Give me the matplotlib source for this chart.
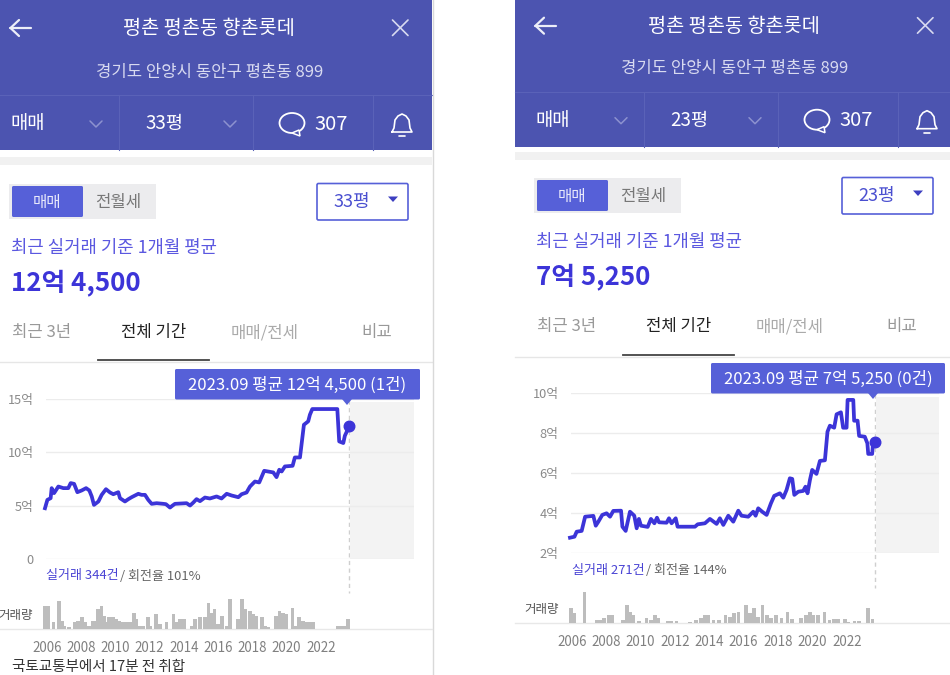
import matplotlib
matplotlib.use("Agg")
import matplotlib.pyplot as plt
from matplotlib.patches import Rectangle, FancyBboxPatch, Polygon, Ellipse

plt.rcParams['font.family'] = ['Noto Sans CJK KR', 'DejaVu Sans']

W, H = 950, 675

# ---- left chart (33평) ----
years_33 = [2005.9, 2006.04, 2006.23, 2006.29, 2006.43, 2006.68, 2006.97, 2007.26, 2007.40, 2007.6,
            2007.79, 2008.04, 2008.3, 2008.49, 2008.63, 2008.76, 2009.02, 2009.21, 2009.46, 2009.7,
            2009.89, 2010.18, 2010.28, 2010.57, 2010.77, 2010.96, 2011.35, 2011.54, 2011.74, 2011.93,
            2012.13, 2012.42, 2012.81, 2012.96, 2013.2, 2013.35, 2013.49, 2014.17, 2014.37, 2014.56,
            2014.75, 2014.95, 2015.24, 2015.53, 2015.92, 2016.21, 2016.51, 2016.8, 2017.19, 2017.38,
            2017.67, 2017.87, 2018.16, 2018.41, 2018.7, 2019.23, 2019.42, 2019.58, 2019.72, 2019.91,
            2020.36, 2020.49, 2020.79, 2021.02, 2021.27, 2021.37, 2021.51, 2022.97, 2023.08, 2023.32,
            2023.41, 2023.67]
price_33 = [4.78, 5.56, 5.72, 6.66, 6.19, 6.81, 6.66, 6.66, 7.13, 7.06,
            6.28, 6.44, 6.66, 6.44, 5.88, 5.09, 5.41, 6.03, 6.56, 6.25,
            6.09, 6.28, 5.72, 5.41, 5.63, 5.81, 6.13, 6.03, 6.03, 5.56,
            5.19, 5.25, 5.19, 5.16, 4.84, 5.03, 5.19, 5.25, 5.03, 5.31,
            5.63, 5.44, 5.78, 5.69, 5.88, 5.69, 6.13, 5.97, 5.81, 6.09,
            6.25, 6.81, 7.28, 7.19, 8.28, 8.13, 7.69, 8.38, 8.22, 8.69,
            8.75, 9.53, 9.53, 12.59, 12.91, 13.53, 14.06, 14.06, 11.03, 10.88,
            11.56, 12.45]
vol_years_33 = [2005.9, 2006.1, 2006.4, 2006.7, 2006.9, 2007.0, 2007.3, 2007.65, 2007.85, 2008.05,
                2008.25, 2008.45, 2008.7, 2008.9, 2009.0, 2009.2, 2009.35, 2009.5, 2009.65, 2009.85,
                2010.05, 2010.25, 2010.45, 2010.65, 2010.85, 2011.1, 2011.25, 2011.45, 2011.65, 2011.9,
                2012.05, 2012.4, 2012.6, 2013.0, 2013.4, 2013.6, 2013.8, 2014.0, 2014.45, 2014.65,
                2014.95, 2015.25, 2015.45, 2015.65, 2015.8, 2016.0, 2016.25, 2016.5, 2016.7, 2017.15,
                2017.4, 2017.6, 2017.85, 2018.05, 2018.25, 2018.55, 2018.75, 2018.95, 2019.4, 2019.6,
                2019.8, 2020.0, 2020.35, 2020.55, 2020.75, 2020.95, 2021.15, 2021.35, 2021.55, 2023.0,
                2023.2, 2023.4, 2023.6]
vol_33 = [70, 70, 20, 85, 25, 10, 5, 20, 25, 35,
          20, 10, 25, 25, 60, 70, 40, 20, 35, 35,
          30, 25, 20, 20, 20, 50, 30, 10, 10, 35,
          10, 45, 15, 20, 45, 20, 30, 30, 10, 30,
          35, 35, 80, 50, 60, 15, 40, 10, 90, 30,
          90, 60, 55, 45, 40, 35, 10, 5, 40, 55,
          50, 45, 65, 10, 35, 25, 20, 20, 20, 8,
          8, 8, 30]
yticks_33 = [0, 5, 10, 15]
ylabels_33 = ['0', '5억', '10억', '15억']

# ---- right chart (23평) ----
years_23 = [2005.9, 2006.16, 2006.29, 2006.58, 2006.78, 2007.26, 2007.4, 2007.55, 2007.78, 2008.03,
            2008.23, 2008.42, 2008.87, 2008.95, 2009.14, 2009.39, 2009.64, 2009.78, 2009.91, 2010.03,
            2010.42, 2010.61, 2010.81, 2010.96, 2011.08, 2011.52, 2011.66, 2011.81, 2012.05, 2012.16,
            2013.17, 2013.33, 2013.75, 2014.04, 2014.43, 2014.62, 2014.82, 2015.11, 2015.4, 2015.69,
            2015.88, 2016.27, 2016.56, 2016.7, 2016.85, 2017.08, 2017.34, 2017.59, 2017.78, 2018.11,
            2018.31, 2018.5, 2018.69, 2018.83, 2018.95, 2019.18, 2019.47, 2019.6, 2019.72, 2019.86,
            2019.99, 2020.24, 2020.44, 2020.73, 2020.88, 2021.02, 2021.27, 2021.41, 2021.66, 2021.79,
            2021.99, 2022.05, 2022.38, 2022.43, 2022.63, 2022.72, 2023.05, 2023.2, 2023.25, 2023.48,
            2023.54, 2023.67]
price_23 = [2.78, 2.83, 3.08, 3.12, 3.83, 3.87, 3.38, 3.58, 3.92, 4.0,
            3.83, 4.12, 4.13, 3.33, 3.12, 4.08, 3.88, 3.25, 3.72, 3.38,
            3.32, 3.72, 3.5, 3.78, 3.55, 3.53, 3.75, 3.5, 3.75, 3.33,
            3.33, 3.45, 3.5, 3.72, 3.47, 3.75, 3.42, 3.88, 3.58, 4.13,
            3.88, 3.83, 4.08, 3.88, 4.25, 4.08, 3.92, 4.5, 4.87, 5.0,
            4.78, 5.17, 5.75, 5.72, 4.92, 5.08, 5.12, 5.33, 5.0, 5.67,
            6.17, 5.97, 6.62, 6.65, 8.08, 8.38, 8.28, 8.95, 9.05, 8.28,
            8.28, 9.67, 9.67, 8.63, 8.63, 7.87, 7.83, 7.5, 6.97, 6.97,
            7.62, 7.55]
vol_years_23 = [2005.95, 2006.15, 2006.75, 2007.45, 2007.65, 2007.9, 2008.15, 2008.35, 2009.0, 2009.2,
                2009.4, 2009.6, 2009.9, 2010.35, 2010.6, 2010.85, 2011.05, 2011.6, 2011.8, 2012.1,
                2012.9, 2013.25, 2013.5, 2013.75, 2013.95, 2014.25, 2014.55, 2014.95, 2015.2, 2015.45,
                2015.7, 2016.15, 2016.35, 2016.6, 2016.85, 2017.1, 2017.35, 2017.6, 2017.9, 2018.2,
                2018.55, 2018.8, 2019.35, 2019.65, 2019.85, 2020.05, 2020.35, 2020.7, 2021.0, 2021.25,
                2021.5, 2021.9, 2022.1, 2022.45, 2022.7, 2023.25, 2023.5]
vol_23 = [45, 30, 95, 10, 10, 15, 25, 25, 10, 55,
          35, 25, 8, 15, 10, 25, 15, 8, 8, 8,
          5, 10, 15, 25, 25, 10, 10, 25, 20, 30,
          35, 55, 30, 45, 20, 55, 25, 15, 25, 15,
          35, 12, 15, 25, 35, 25, 25, 35, 10, 12,
          12, 12, 5, 8, 8, 45, 12]
yticks_23 = [2, 4, 6, 8, 10]
ylabels_23 = ['2억', '4억', '6억', '8억', '10억']

xticks = [2006, 2008, 2010, 2012, 2014, 2016, 2018, 2020, 2022]
cursor_year = 2023.67

HEADER = '#4c54b0'
ACCENT = '#5660d8'
LINE = '#3c34d8'
BAR = '#bdbdbd'
TEXT_DY = 2

fig = plt.figure(figsize=(W / 100, H / 100), dpi=100, facecolor='white')
ui = fig.add_axes([0, 0, 1, 1], zorder=0)
ui.set_xlim(0, W); ui.set_ylim(H, 0); ui.axis('off')
top = fig.add_axes([0, 0, 1, 1], zorder=5)
top.set_xlim(0, W); top.set_ylim(H, 0); top.axis('off'); top.patch.set_alpha(0)


def utext(x, y, s, **kw):
    ui.text(x, y + TEXT_DY, s, va='center', **kw)


def px_axes(x0, x1, y0, y1, zorder=2):
    ax = fig.add_axes([x0 / W, 1 - y1 / H, (x1 - x0) / W, (y1 - y0) / H], zorder=zorder)
    ax.patch.set_alpha(0)
    return ax


def icon_line(xs, ys, color='white', lw=1.4):
    ui.plot(xs, ys, color=color, lw=lw, solid_capstyle='round', solid_joinstyle='round')


def panel(xl, xr, ox, d1, d2, d3, d4, size, big):
    # header
    ui.add_patch(Rectangle((xl, 0), xr - xl, 150 + d1, fc=HEADER, ec='none'))
    ui.add_patch(Rectangle((xl, 156.5 + d2), xr - xl, 8.5, fc='#f1f1f1', ec='none'))
    ay = 28 + d1 * .7
    icon_line([10 + ox, 31 + ox], [ay, ay], lw=1.6, color='#eceef8')
    icon_line([19 + ox, 10.5 + ox, 19 + ox], [ay - 8, ay, ay + 8], lw=1.6, color='#eceef8')
    icon_line([392.5 + ox, 408 + ox], [ay - 8, ay + 7.5], color='#d8daf0', lw=1.2)
    icon_line([392.5 + ox, 408 + ox], [ay + 7.5, ay - 8], color='#d8daf0', lw=1.2)
    utext(209 + ox, 26.5 + d1 * .7, '평촌 평촌동 향촌롯데', color='white', fontsize=14.2, fontweight='medium', ha='center')
    utext(209.5 + ox, 70 + d1, '경기도 안양시 동안구 평촌동 899', color='#d8daf0', fontsize=12, ha='center')
    ty = 124 + d1
    ui.plot([xl, xr], [95 + d1, 95 + d1], color='#5a62b8', lw=.8)
    for dx in (119, 253, 373):
        ui.plot([dx + ox] * 2, [96 + d1, 150 + d1], color='#5a62b8', lw=.8)
    utext(28 + ox, ty - 2, '매매', color='white', fontsize=13.5, ha='center')
    utext(164 + ox, ty - 2, size, color='white', fontsize=13.5, ha='center')
    utext(331 + ox, ty - 2, '307', color='white', fontsize=14.5, ha='center')
    for cx in (96, 230):
        icon_line([cx - 6 + ox, cx + ox, cx + 6 + ox], [ty - 3, ty + 3, ty - 3], color='#8d92cf', lw=1.1)
    ui.add_patch(Ellipse((292 + ox, ty - 1), 25, 20, fc='none', ec='white', lw=1.3))
    ui.add_patch(Polygon([[292 + ox, ty + 9], [300 + ox, ty + 12], [299 + ox, ty + 6]], fc=HEADER, ec='white', lw=1.1))
    bx = 402 + ox
    icon_line([bx - 10, bx - 8, bx - 7, bx - 4, bx, bx + 4, bx + 7, bx + 8, bx + 10, bx - 10],
              [ty + 8, ty + 4, ty - 4, ty - 8, ty - 10, ty - 8, ty - 4, ty + 4, ty + 8, ty + 8], lw=1.2)
    icon_line([bx - 3, bx + 3], [ty + 12, ty + 12], lw=1.2)
    # controls
    ui.add_patch(Rectangle((9 + ox, 183.5 + d3), 147, 35, fc='#ececee', ec='none'))
    ui.add_patch(FancyBboxPatch((12 + ox, 186 + d3), 71, 31, boxstyle='round,pad=0,rounding_size=1.5', fc=ACCENT, ec='none'))
    utext(47 + ox, 200 + d3, '매매', color='#e8e9fb', fontsize=11.2, ha='center')
    utext(118 + ox, 200 + d3, '전월세', color='#777777', fontsize=12, ha='center')
    ui.add_patch(FancyBboxPatch((317 + ox, 183.5 + d3), 91, 36.5, boxstyle='round,pad=0,rounding_size=1.5', fc='white', ec=ACCENT, lw=1.2))
    utext(352 + ox, 199.5 + d3, size, color='#4a4fd0', fontsize=13, ha='center')
    ui.add_patch(Polygon([[388 + ox, 196.5 + d3], [398 + ox, 196.5 + d3], [393 + ox, 202 + d3]], fc='#3d3fc0', ec='none'))
    utext(11 + ox, 246 + d3, '최근 실거래 기준 1개월 평균', color='#5b58e0', fontsize=12.8, ha='left')
    utext(11 + ox, 281 + d3, big, color=LINE, fontsize=18.6, fontweight='bold', ha='left')
    # tabs
    tabs = [('최근 3년', 42, '#999999', 'regular'), ('전체 기간', 153.5, '#222222', 'medium'),
            ('매매/전세', 265, '#aaaaaa', 'regular'), ('비교', 377, '#999999', 'regular')]
    for s, cx, c, w in tabs:
        utext(cx + ox, 331 + d3, s, color=c, fontsize=12, fontweight=w, ha='center')
    ui.plot([xl, xr], [362 + d4, 362 + d4], color='#e6e6e6', lw=1)
    ui.plot([98 + ox, 209 + ox], [359.5 + d4, 359.5 + d4], color='#444444', lw=1.3)


def chart(x2006, per_year, xend, ygrid_top, ygrid_bot, ymin, ymax, band_top,
          yrs, vals, vyrs, vols, yt, yl, count_txt, rate_txt, tip, box, tip_pt, cap_y, cap_x, base_y,
          vol_label_x, axis_left):
    xl0 = 2006 + (axis_left - x2006) / per_year
    xl1 = 2006 + (xend - x2006) / per_year
    ax = px_axes(axis_left, xend, ygrid_top, ygrid_bot)
    ax.set_xlim(xl0, xl1); ax.set_ylim(ymin, ymax)
    for s in ax.spines.values():
        s.set_visible(False)
    frac_top = (ygrid_bot - band_top) / (ygrid_bot - ygrid_top)
    ax.axvspan(cursor_year + .03, xl1, ymin=0, ymax=frac_top, color='#f3f3f3', lw=0, zorder=0)
    ax.set_yticks(yt); ax.set_yticklabels(yl, color='#8a8a8a', fontsize=9.2)
    ax.set_xticks([])
    ax.tick_params(axis='y', length=0, pad=9)
    ax.grid(axis='y', color='#ececec', lw=1, zorder=1)
    ax.set_axisbelow(True)
    ax.plot(yrs, vals, color=LINE, lw=2.7, zorder=3, clip_on=False, solid_joinstyle='round')
    ax.plot([yrs[-1]], [vals[-1]], 'o', color=LINE, ms=7.6, zorder=4, clip_on=False)

    bx = px_axes(axis_left, xend, base_y - 33, base_y)
    bx.set_xlim(xl0, xl1); bx.set_ylim(0, 100)
    bx.bar(vyrs, vols, width=0.22, color=BAR, lw=0, clip_on=False)
    for s in bx.spines.values():
        s.set_visible(False)
    bx.set_yticks([])
    bx.set_xticks(xticks)
    bx.set_xticklabels([str(t) for t in xticks], color='#808080', fontsize=9.6)
    bx.tick_params(axis='x', length=0, pad=8.5)

    cx = x2006 + (cursor_year - 2006) * per_year
    ui.plot([cx, cx], [ygrid_top + 1, cap_y + 18], color='#cfcfcf', lw=1, ls=(0, (3, 2.5)))
    utext(cap_x, cap_y - 1, count_txt, color='#4a44d4', fontsize=9.4, ha='left')
    utext(cap_x + 74, cap_y - 1, rate_txt, color='#666666', fontsize=9.4, ha='left')
    utext(vol_label_x, base_y - 16, '거래량', color='#555555', fontsize=9, ha='right')

    x0, x1, y0, y1 = box
    top.add_patch(FancyBboxPatch((x0, y0), x1 - x0, y1 - y0, boxstyle='round,pad=0,rounding_size=1.5', fc=ACCENT, ec='none'))
    top.add_patch(Polygon([[tip_pt[0] - 5, y1 - .5], [tip_pt[0] + 5, y1 - .5], tip_pt], fc=ACCENT, ec='none'))
    top.text((x0 + x1) / 2, (y0 + y1) / 2 + 1, tip, color='white', fontsize=12, ha='center', va='center')


# left panel
panel(0, 432, 0, 0, 0, 0, 0, '33평', '12억 4,500')
ui.plot([432.5, 432.5], [0, H], color='#d9d9d9', lw=1)
ui.plot([0, 432], [629, 629], color='#e8e8e8', lw=1)
chart(46.7, 17.125, 414, 399, 559.3, 0, 15, 402,
      years_33, price_33, vol_years_33, vol_33, yticks_33, ylabels_33,
      '실거래 344건', '/ 회전율 101%', '2023.09 평균 12억 4,500 (1건)',
      (175, 420, 369, 399.5), (347, 405), 575, 46, 629, 33, 46)
ui.text(12, 667, '국토교통부에서 17분 전 취합', color='#333333', fontsize=10.5, ha='left', va='center')

# right panel
panel(515, 950, 525, -3.3, -5, -6, -4.7, '23평', '7억 5,250')
ui.plot([515, 950], [623.3, 623.3], color='#e8e8e8', lw=1)
chart(571.7, 17.19, 939, 393.3, 553.3, 2, 10, 397,
      years_23, price_23, vol_years_23, vol_23, yticks_23, ylabels_23,
      '실거래 271건', '/ 회전율 144%', '2023.09 평균 7억 5,250 (0건)',
      (711, 945, 363, 393.5), (873, 399), 569.5, 572, 623.3, 558.5, 571)

fig.savefig('out.png', dpi=100)
